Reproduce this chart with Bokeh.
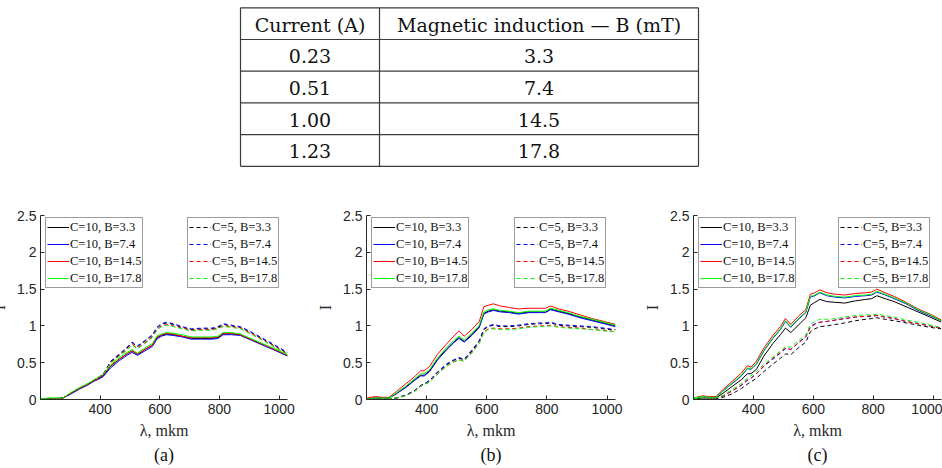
from bokeh.plotting import figure
from bokeh.models import Range1d, FixedTicker, Legend, LegendItem, Title
from bokeh.layouts import column, row
from bokeh.embed import file_html
from bokeh.resources import INLINE
from bokeh.core.properties import value

# ---------------- table data ----------------
TABLE_HEADER = ["Current (A)", "Magnetic induction \u2014 B (mT)"]
CURRENT = ["0.23", "0.51", "1.00", "1.23"]
B_FIELD = ["3.3", "7.4", "14.5", "17.8"]

# ---------------- spectra data ----------------
LAMBDA = [200, 230, 250, 275, 300, 330, 360, 380, 392, 410, 435, 465, 490, 507, 525, 550, 575,
          590, 605, 622, 645, 675, 705, 740, 775, 795, 812, 840, 870, 910, 950, 990, 1028]

# panel (a)
A_C10_B33 = [0.01, 0.01, 0.01, 0.02, 0.08, 0.15, 0.21, 0.26, 0.28, 0.32, 0.45, 0.55, 0.62, 0.66, 0.61, 0.68, 0.74,
             0.84, 0.87, 0.89, 0.88, 0.86, 0.83, 0.83, 0.83, 0.84, 0.89, 0.89, 0.88, 0.81, 0.74, 0.67, 0.60]
A_C10_B74 = [0.01, 0.01, 0.01, 0.02, 0.07, 0.14, 0.20, 0.25, 0.27, 0.31, 0.43, 0.53, 0.60, 0.64, 0.60, 0.66, 0.72,
             0.82, 0.86, 0.88, 0.87, 0.85, 0.82, 0.82, 0.82, 0.83, 0.88, 0.88, 0.87, 0.80, 0.73, 0.66, 0.59]
A_C10_B145 = [0.01, 0.01, 0.01, 0.02, 0.08, 0.15, 0.21, 0.26, 0.28, 0.33, 0.46, 0.55, 0.62, 0.66, 0.62, 0.68, 0.74,
              0.85, 0.88, 0.90, 0.89, 0.86, 0.84, 0.84, 0.84, 0.85, 0.90, 0.90, 0.88, 0.81, 0.74, 0.67, 0.60]
A_C10_B178 = [0.01, 0.02, 0.02, 0.02, 0.09, 0.16, 0.22, 0.27, 0.30, 0.34, 0.47, 0.57, 0.64, 0.68, 0.63, 0.70, 0.76,
              0.86, 0.89, 0.91, 0.90, 0.88, 0.85, 0.85, 0.85, 0.86, 0.91, 0.91, 0.89, 0.82, 0.75, 0.68, 0.61]
A_C5_B33 = [0.01, 0.01, 0.01, 0.02, 0.08, 0.15, 0.21, 0.26, 0.29, 0.34, 0.51, 0.61, 0.70, 0.77, 0.72, 0.79, 0.87,
            0.97, 1.02, 1.04, 1.02, 0.98, 0.95, 0.96, 0.96, 0.98, 1.02, 1.00, 0.98, 0.90, 0.81, 0.72, 0.63]
A_C5_B74 = [0.01, 0.01, 0.01, 0.02, 0.08, 0.15, 0.21, 0.26, 0.29, 0.34, 0.52, 0.62, 0.71, 0.78, 0.73, 0.80, 0.88,
            0.98, 1.03, 1.05, 1.03, 0.99, 0.96, 0.97, 0.97, 0.99, 1.03, 1.01, 0.99, 0.91, 0.82, 0.73, 0.64]
A_C5_B145 = [0.01, 0.01, 0.01, 0.02, 0.08, 0.15, 0.21, 0.26, 0.29, 0.33, 0.50, 0.60, 0.68, 0.75, 0.70, 0.77, 0.85,
             0.95, 1.00, 1.02, 1.00, 0.97, 0.94, 0.95, 0.95, 0.97, 1.00, 0.99, 0.97, 0.89, 0.80, 0.71, 0.62]
A_C5_B178 = [0.01, 0.02, 0.02, 0.02, 0.09, 0.16, 0.22, 0.27, 0.30, 0.34, 0.49, 0.59, 0.67, 0.74, 0.69, 0.76, 0.84,
             0.94, 0.99, 1.01, 0.99, 0.96, 0.93, 0.94, 0.94, 0.96, 0.99, 0.98, 0.96, 0.88, 0.79, 0.70, 0.61]

# panel (b)
B_C10_B33 = [0.01, 0.02, 0.02, 0.02, 0.08, 0.17, 0.27, 0.33, 0.33, 0.39, 0.54, 0.68, 0.78, 0.84, 0.79, 0.88, 0.99,
             1.17, 1.20, 1.22, 1.20, 1.19, 1.17, 1.19, 1.19, 1.19, 1.23, 1.20, 1.17, 1.12, 1.08, 1.04, 1.00]
B_C10_B74 = [0.01, 0.02, 0.02, 0.02, 0.08, 0.16, 0.26, 0.32, 0.32, 0.38, 0.53, 0.67, 0.77, 0.83, 0.78, 0.87, 0.98,
             1.16, 1.19, 1.21, 1.19, 1.18, 1.16, 1.18, 1.18, 1.18, 1.22, 1.19, 1.16, 1.11, 1.07, 1.03, 0.99]
B_C10_B145 = [0.02, 0.04, 0.03, 0.03, 0.11, 0.21, 0.31, 0.39, 0.39, 0.45, 0.61, 0.75, 0.86, 0.93, 0.86, 0.95, 1.06,
              1.26, 1.28, 1.30, 1.27, 1.25, 1.23, 1.24, 1.24, 1.24, 1.27, 1.23, 1.20, 1.15, 1.10, 1.06, 1.02]
B_C10_B178 = [0.01, 0.02, 0.02, 0.02, 0.09, 0.18, 0.28, 0.35, 0.35, 0.41, 0.56, 0.70, 0.80, 0.86, 0.81, 0.90, 1.01,
              1.19, 1.22, 1.23, 1.21, 1.20, 1.18, 1.20, 1.20, 1.20, 1.24, 1.21, 1.18, 1.13, 1.09, 1.05, 1.01]
B_C5_B33 = [0.01, 0.01, 0.01, 0.01, 0.02, 0.06, 0.12, 0.19, 0.21, 0.26, 0.36, 0.47, 0.53, 0.56, 0.54, 0.66, 0.79,
            0.95, 0.99, 1.01, 0.99, 0.99, 1.00, 1.02, 1.03, 1.03, 1.04, 1.01, 1.00, 0.99, 0.98, 0.96, 0.94]
B_C5_B74 = [0.01, 0.01, 0.01, 0.01, 0.02, 0.06, 0.12, 0.19, 0.21, 0.26, 0.37, 0.48, 0.54, 0.57, 0.55, 0.67, 0.80,
            0.96, 1.00, 1.02, 1.00, 1.00, 1.01, 1.03, 1.04, 1.04, 1.05, 1.02, 1.01, 1.00, 0.99, 0.97, 0.95]
B_C5_B145 = [0.01, 0.01, 0.01, 0.01, 0.02, 0.05, 0.11, 0.18, 0.20, 0.24, 0.34, 0.45, 0.51, 0.54, 0.52, 0.64, 0.77,
             0.92, 0.96, 0.97, 0.96, 0.96, 0.97, 0.99, 1.00, 1.00, 1.01, 0.99, 0.98, 0.97, 0.95, 0.94, 0.92]
B_C5_B178 = [0.01, 0.01, 0.01, 0.01, 0.02, 0.05, 0.11, 0.18, 0.20, 0.24, 0.34, 0.45, 0.51, 0.54, 0.52, 0.63, 0.76,
             0.91, 0.95, 0.96, 0.95, 0.95, 0.96, 0.98, 0.99, 0.99, 1.00, 0.98, 0.97, 0.96, 0.95, 0.93, 0.92]

# panel (c)
C_C10_B33 = [0.01, 0.02, 0.02, 0.02, 0.09, 0.18, 0.27, 0.35, 0.35, 0.41, 0.59, 0.76, 0.88, 0.97, 0.91, 1.01, 1.11,
             1.28, 1.32, 1.36, 1.33, 1.32, 1.31, 1.34, 1.36, 1.37, 1.41, 1.37, 1.33, 1.26, 1.19, 1.12, 1.05]
C_C10_B74 = [0.02, 0.04, 0.03, 0.03, 0.12, 0.22, 0.32, 0.42, 0.41, 0.48, 0.66, 0.83, 0.95, 1.06, 0.98, 1.09, 1.18,
             1.39, 1.41, 1.45, 1.41, 1.39, 1.38, 1.40, 1.41, 1.42, 1.46, 1.42, 1.37, 1.30, 1.21, 1.14, 1.07]
C_C10_B145 = [0.02, 0.05, 0.04, 0.04, 0.14, 0.25, 0.36, 0.46, 0.44, 0.52, 0.70, 0.87, 0.99, 1.10, 1.02, 1.13, 1.22,
              1.43, 1.45, 1.49, 1.45, 1.43, 1.42, 1.44, 1.45, 1.46, 1.50, 1.45, 1.40, 1.32, 1.23, 1.16, 1.08]
C_C10_B178 = [0.02, 0.04, 0.03, 0.03, 0.12, 0.23, 0.33, 0.43, 0.42, 0.49, 0.67, 0.84, 0.96, 1.07, 0.99, 1.10, 1.19,
              1.40, 1.42, 1.46, 1.42, 1.40, 1.39, 1.41, 1.42, 1.43, 1.47, 1.43, 1.38, 1.31, 1.22, 1.15, 1.07]
C_C5_B33 = [0.01, 0.01, 0.01, 0.01, 0.03, 0.08, 0.15, 0.21, 0.24, 0.29, 0.38, 0.48, 0.56, 0.62, 0.61, 0.70, 0.78,
            0.92, 0.96, 0.99, 1.00, 1.02, 1.04, 1.07, 1.09, 1.10, 1.11, 1.09, 1.07, 1.04, 1.01, 0.98, 0.96]
C_C5_B74 = [0.01, 0.01, 0.01, 0.02, 0.05, 0.12, 0.19, 0.26, 0.29, 0.35, 0.45, 0.55, 0.63, 0.69, 0.68, 0.77, 0.85,
            0.99, 1.03, 1.05, 1.06, 1.08, 1.10, 1.12, 1.13, 1.13, 1.14, 1.12, 1.10, 1.06, 1.03, 1.00, 0.97]
C_C5_B145 = [0.01, 0.01, 0.01, 0.02, 0.05, 0.12, 0.20, 0.27, 0.29, 0.35, 0.46, 0.56, 0.64, 0.70, 0.68, 0.77, 0.86,
             0.98, 1.02, 1.05, 1.06, 1.08, 1.10, 1.12, 1.13, 1.14, 1.14, 1.12, 1.10, 1.06, 1.03, 1.00, 0.97]
C_C5_B178 = [0.01, 0.02, 0.02, 0.02, 0.06, 0.14, 0.22, 0.29, 0.32, 0.38, 0.48, 0.58, 0.66, 0.72, 0.71, 0.80, 0.88,
             1.02, 1.06, 1.09, 1.09, 1.10, 1.12, 1.14, 1.15, 1.15, 1.16, 1.14, 1.12, 1.08, 1.05, 1.01, 0.98]

PANEL_TAGS = ["(a)", "(b)", "(c)"]
PANEL_SOLID = [[A_C10_B33, A_C10_B74, A_C10_B145, A_C10_B178],
               [B_C10_B33, B_C10_B74, B_C10_B145, B_C10_B178],
               [C_C10_B33, C_C10_B74, C_C10_B145, C_C10_B178]]
PANEL_DASHED = [[A_C5_B33, A_C5_B74, A_C5_B145, A_C5_B178],
                [B_C5_B33, B_C5_B74, B_C5_B145, B_C5_B178],
                [C_C5_B33, C_C5_B74, C_C5_B145, C_C5_B178]]

SOLID_LABELS = ["C=10, B=3.3", "C=10, B=7.4", "C=10, B=14.5", "C=10, B=17.8"]
DASHED_LABELS = ["C=5, B=3.3", "C=5, B=7.4", "C=5, B=14.5", "C=5, B=17.8"]
X_TICKS = [400, 600, 800, 1000]
Y_TICKS = [0, 0.5, 1, 1.5, 2, 2.5]
Y_TICK_LABELS = ["0", "0.5", "1", "1.5", "2", "2.5"]
X_LABEL = "\u03bb, mkm"
Y_LABEL = "I"

# ---------------- styles ----------------
COLORS = ["#000000", "#0000ff", "#ff0000", "#00ff00"]
SERIF = "Liberation Serif"
SANS = "Liberation Sans"

# ---------------- table ----------------
T_W, T_H = 942, 200
T_LEFT, T_SPLIT, T_RIGHT, T_TOP, T_ROW = 240, 379, 698, 7.3, 31.7

tbl = figure(width=T_W, height=T_H, x_range=Range1d(0, T_W), y_range=Range1d(T_H, 0),
             toolbar_location=None, output_backend="svg", x_axis_location=None, y_axis_location=None,
             min_border=0, outline_line_color=None)
tbl.grid.visible = False
n_rows = len(CURRENT) + 1
hy = [T_TOP + i * T_ROW for i in range(n_rows + 1)]
tbl.segment(x0=[T_LEFT] * len(hy), x1=[T_RIGHT] * len(hy), y0=hy, y1=hy,
            line_color="#3a3a3a", line_width=1.2)
vx = [T_LEFT, T_SPLIT, T_RIGHT]
tbl.segment(x0=vx, x1=vx, y0=[hy[0]] * 3, y1=[hy[-1]] * 3, line_color="#3a3a3a", line_width=1.2)

c1 = (T_LEFT + T_SPLIT) / 2
c2 = (T_SPLIT + T_RIGHT) / 2
col1 = [TABLE_HEADER[0]] + CURRENT
col2 = [TABLE_HEADER[1]] + B_FIELD
ys = [T_TOP + (i + 0.5) * T_ROW + 1 for i in range(n_rows)]
tbl.text(x=[c1] * n_rows, y=ys, text=col1, text_align="center", text_baseline="middle",
         text_font=value("DejaVu Serif"), text_font_size="19px", text_color="#111111")
tbl.text(x=[c2] * n_rows, y=ys, text=col2, text_align="center", text_baseline="middle",
         text_font=value("DejaVu Serif"), text_font_size="19px", text_color="#111111")

# ---------------- panels ----------------
LEFT_B = 47
PANEL_W = [326, 327, 301]
PANEL_RB = [27, 26, 1]
PANEL_MARGIN_L = [-12, 0, 0]
LEG2_X = [147, 148, 145]


def make_panel(k):
    p = figure(width=PANEL_W[k], height=268, x_range=Range1d(200, 1028), y_range=Range1d(0, 2.5),
               toolbar_location=None, output_backend="svg",
               min_border_left=LEFT_B, min_border_right=PANEL_RB[k], min_border_top=15,
               min_border_bottom=69, outline_line_color=None,
               margin=(0, 0, 0, PANEL_MARGIN_L[k]))
    p.grid.visible = False
    for ax in (p.xaxis, p.yaxis):
        ax.axis_line_color = "#262626"
        ax.axis_line_width = 1
        ax.major_tick_line_color = "#262626"
        ax.major_tick_in = 4
        ax.major_tick_out = 0
        ax.minor_tick_in = 0
        ax.minor_tick_out = 0
        ax.major_label_text_font = SANS
        ax.major_label_text_font_size = "14px"
        ax.major_label_text_color = "#262626"
        ax.major_label_standoff = 4
        ax.axis_label_text_font = SERIF
        ax.axis_label_text_font_size = "16px"
        ax.axis_label_text_font_style = "normal"
        ax.axis_label_text_color = "#262626"
    p.xaxis.ticker = FixedTicker(ticks=X_TICKS)
    p.yaxis.ticker = FixedTicker(ticks=Y_TICKS)
    p.yaxis.major_label_overrides = {float(t): l for t, l in zip(Y_TICKS, Y_TICK_LABELS)}
    p.xaxis.axis_label = X_LABEL
    p.yaxis.axis_label = Y_LABEL
    p.xaxis.axis_label_standoff = 5
    p.yaxis.axis_label_standoff = 6

    solid_items, dashed_items = [], []
    for color, ys_, lab in zip(COLORS, PANEL_SOLID[k], SOLID_LABELS):
        r = p.line(LAMBDA, ys_, line_color=color, line_width=1.0)
        solid_items.append(LegendItem(label=lab, renderers=[r]))
    for color, ys_, lab in zip(COLORS, PANEL_DASHED[k], DASHED_LABELS):
        r = p.line(LAMBDA, ys_, line_color=color, line_width=1.0, line_dash="4 3")
        dashed_items.append(LegendItem(label=lab, renderers=[r]))

    for items, x in ((solid_items, 5), (dashed_items, LEG2_X[k])):
        leg = Legend(items=items, location=(x, 111), orientation="vertical",
                     border_line_color="#3c3c3c", border_line_width=1,
                     background_fill_color="white", background_fill_alpha=1,
                     label_text_font=SERIF, label_text_font_size="12.5px", label_text_color="#111111",
                     glyph_width=22, glyph_height=16, label_height=16, label_standoff=1,
                     spacing=1, padding=1, margin=0)
        p.add_layout(leg, "center")

    p.add_layout(Title(text=PANEL_TAGS[k], align="center", text_font=SERIF, text_font_size="18px",
                       text_font_style="normal", text_color="#111111", standoff=2), "below")
    return p


panels = [make_panel(k) for k in range(3)]
layout = column(tbl, row(*panels, spacing=0), spacing=0)

open("out.html", "w").write(file_html(layout, INLINE))
